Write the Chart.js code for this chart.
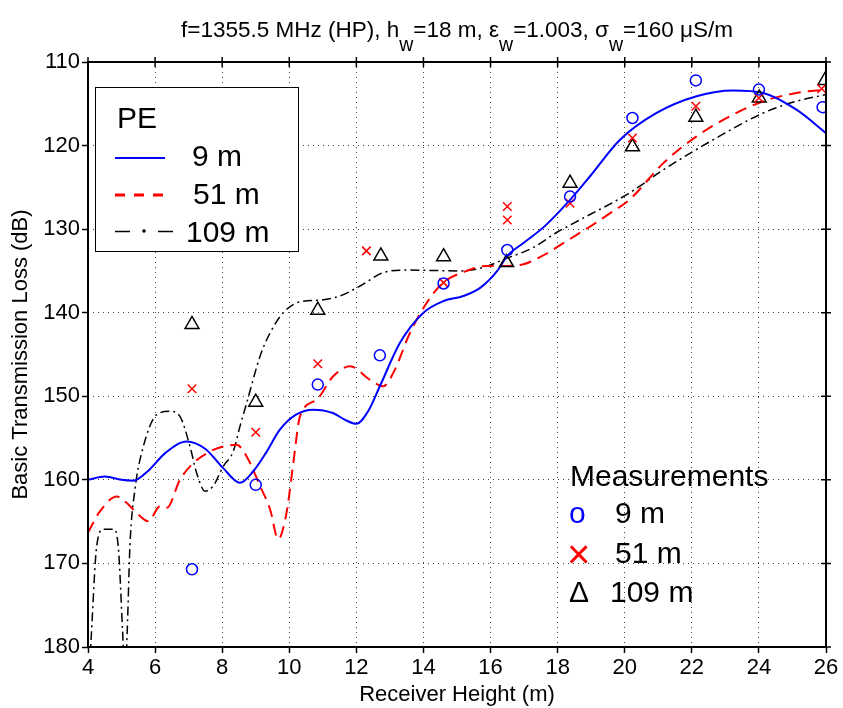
<!DOCTYPE html>
<html>
<head>
<meta charset="utf-8">
<script src="https://cdn.jsdelivr.net/npm/chart.js@4.4.1/dist/chart.umd.min.js"></script>
<style>
  body { margin: 0; background: #fff; }
  #wrap { width: 843px; height: 708px; }
</style>
</head>
<body>
<div id="wrap"><canvas id="lossChart"></canvas></div>
<script>
// PE model curves (receiver height in m, basic transmission loss in dB)
const pe9X = [4.0, 4.5, 5.0, 5.35, 5.8, 6.3, 6.94, 7.5, 8.03, 8.53, 8.92, 9.3, 9.72, 10.2, 10.71, 11.3, 11.7, 12.0, 12.35, 12.7, 13.3, 14.0, 14.6, 15.19, 15.7, 16.2, 16.5, 17.0, 17.6, 18.37, 18.96, 19.86, 20.95, 22.14, 23.23, 24.13, 25.12, 26.0];
const pe9Y = [160.0, 159.6, 160.0, 160.1, 158.9, 156.8, 155.4, 156.3, 158.6, 160.35, 159.0, 156.8, 154.0, 152.2, 151.6, 152.0, 152.9, 153.3, 151.8, 148.8, 143.6, 140.0, 138.6, 138.0, 137.0, 135.0, 133.2, 131.6, 129.7, 126.5, 123.7, 119.3, 116.1, 114.1, 113.4, 113.7, 115.7, 118.5];

const pe51X = [4.0, 4.36, 4.86, 5.15, 5.4, 5.8, 6.15, 6.35, 6.74, 7.14, 7.64, 8.03, 8.43, 8.73, 9.13, 9.43, 9.67, 9.92, 10.12, 10.32, 10.82, 11.31, 11.81, 12.4, 12.8, 13.1, 13.6, 14.1, 14.59, 15.29, 15.88, 16.48, 16.98, 17.5, 18.2, 19.0, 19.6, 20.15, 21.15, 22.14, 23.13, 24.13, 25.12, 26.0];
const pe51Y = [166.3, 163.75, 162.0, 162.75, 163.75, 164.95, 163.15, 163.35, 160.0, 158.0, 156.6, 156.0, 155.8, 157.2, 160.75, 163.55, 167.1, 163.9, 158.0, 152.4, 150.4, 147.6, 146.4, 148.0, 148.8, 147.2, 142.4, 138.8, 136.4, 135.0, 134.4, 134.4, 134.2, 133.3, 131.6, 129.6, 128.0, 126.45, 122.1, 118.9, 116.5, 114.7, 113.7, 113.3];

const pe109X = [4.0, 4.1, 4.26, 4.46, 4.76, 4.9, 5.03, 5.1, 5.17, 5.25, 5.4, 5.65, 6.05, 6.44, 6.74, 7.04, 7.24, 7.49, 7.73, 8.03, 8.33, 8.53, 8.73, 9.13, 9.43, 9.82, 10.32, 10.91, 11.51, 12.11, 12.8, 13.5, 14.29, 15.09, 15.68, 16.48, 17.27, 17.97, 18.66, 20.15, 21.15, 22.64, 24.13, 25.12, 26.0];
const pe109Y = [186.0, 178.5, 167.9, 165.9, 165.9, 167.9, 178.0, 184.0, 178.0, 167.9, 161.15, 156.0, 152.2, 151.8, 152.4, 156.0, 159.2, 161.35, 160.75, 158.4, 156.6, 153.6, 150.8, 145.2, 142.4, 140.0, 138.7, 138.5, 138.0, 136.8, 135.2, 134.9, 134.95, 135.0, 134.7, 133.5, 132.2, 130.4, 128.9, 125.65, 122.9, 119.3, 116.1, 114.7, 113.9];

// measurements
const meas9X = [7.1, 9.0, 10.85, 12.7, 14.6, 16.5, 18.37, 20.23, 22.12, 24.0, 25.9];
const meas9Y = [170.7, 160.6, 148.6, 145.1, 136.5, 132.5, 126.1, 116.7, 112.2, 113.3, 115.4];

const meas51X = [7.1, 9.0, 10.85, 12.3, 14.6, 16.5, 16.5, 18.37, 20.23, 22.12, 24.0, 25.87];
const meas51Y = [149.1, 154.3, 146.1, 132.6, 136.4, 127.3, 128.9, 126.9, 119.1, 115.3, 114.3, 113.2];

const meas109X = [7.1, 9.0, 10.85, 12.73, 14.6, 16.48, 18.37, 20.23, 22.12, 24.01, 25.97];
const meas109Y = [141.4, 150.7, 139.7, 133.2, 133.3, 134.0, 124.5, 120.15, 116.6, 114.3, 112.2];

const xTicks = [4, 6, 8, 10, 12, 14, 16, 18, 20, 22, 24, 26];
const yTicks = [110, 120, 130, 140, 150, 160, 170, 180];

const FONT = "'Liberation Sans', Arial, Helvetica, sans-serif";

const toPoints = (xs, ys) => xs.map((x, i) => ({ x: x, y: ys[i] }));

const decor = {
  id: 'decor',
  afterDraw(chart) {
    const ctx = chart.ctx;
    const a = chart.chartArea;
    const xs = chart.scales.x;
    const ys = chart.scales.y;
    ctx.save();

    // frame
    ctx.strokeStyle = '#000';
    ctx.lineWidth = 2;
    ctx.strokeRect(a.left, a.top, a.right - a.left, a.bottom - a.top);

    // small ticks on top and right
    ctx.lineWidth = 1.5;
    ctx.beginPath();
    xTicks.forEach(v => {
      const px = xs.getPixelForValue(v);
      ctx.moveTo(px, a.top - 5);
      ctx.lineTo(px, a.top + 5);
    });
    yTicks.forEach(v => {
      const py = ys.getPixelForValue(v);
      ctx.moveTo(a.right - 5, py);
      ctx.lineTo(a.right + 5, py);
    });
    ctx.stroke();

    // title with subscripts
    const parts = [
      ['f=1355.5 MHz (HP), h', 0], ['w', 1], ['=18 m, \u03b5', 0], ['w', 1],
      ['=1.003, \u03c3', 0], ['w', 1], ['=160 \u03bcS/m', 0]
    ];
    const mainFont = '22.5px ' + FONT;
    const subFont = '19.5px ' + FONT;
    let total = 0;
    parts.forEach(p => {
      ctx.font = p[1] ? subFont : mainFont;
      total += ctx.measureText(p[0]).width;
    });
    let tx = (a.left + a.right) / 2 - total / 2;
    ctx.fillStyle = '#000';
    ctx.textBaseline = 'alphabetic';
    ctx.textAlign = 'left';
    parts.forEach(p => {
      ctx.font = p[1] ? subFont : mainFont;
      ctx.fillText(p[0], tx, p[1] ? 51 : 37);
      tx += ctx.measureText(p[0]).width;
    });

    // PE legend box
    ctx.fillStyle = '#fff';
    ctx.fillRect(95, 87, 203, 164);
    ctx.strokeStyle = '#000';
    ctx.lineWidth = 1;
    ctx.strokeRect(95.5, 87.5, 203, 164);

    ctx.fillStyle = '#000';
    ctx.font = '30px ' + FONT;
    ctx.fillText('PE', 117, 128);
    ctx.fillText('9 m', 192, 166);
    ctx.fillText('51 m', 193, 204);
    ctx.fillText('109 m', 186, 242);

    ctx.lineWidth = 2;
    ctx.strokeStyle = '#0000ff';
    ctx.beginPath();
    ctx.moveTo(115, 158); ctx.lineTo(165, 158);
    ctx.stroke();

    ctx.lineWidth = 3;
    ctx.strokeStyle = '#ff0000';
    ctx.setLineDash([10, 9]);
    ctx.beginPath();
    ctx.moveTo(115, 195); ctx.lineTo(166, 195);
    ctx.stroke();
    ctx.setLineDash([]);

    ctx.lineWidth = 1.5;
    ctx.strokeStyle = '#000';
    ctx.beginPath();
    ctx.moveTo(115, 231.5); ctx.lineTo(130, 231.5);
    ctx.moveTo(158, 231.5); ctx.lineTo(173, 231.5);
    ctx.stroke();
    ctx.beginPath();
    ctx.arc(144, 231, 1.8, 0, Math.PI * 2);
    ctx.fillStyle = '#000';
    ctx.fill();

    // measurements legend (no box)
    ctx.font = '30px ' + FONT;
    ctx.fillStyle = '#000';
    ctx.fillText('Measurements', 570, 486);
    ctx.fillStyle = '#0000ff';
    ctx.fillText('o', 569, 523);
    ctx.fillStyle = '#000';
    ctx.fillText('\u0394', 569, 602);
    ctx.fillText('9 m', 615, 523);
    ctx.fillText('51 m', 615, 563);
    ctx.fillText('109 m', 610, 602);
    ctx.font = '40px ' + FONT;
    ctx.fillStyle = '#ff0000';
    ctx.fillText('\u00d7', 567, 568);

    ctx.restore();
  }
};

new Chart(document.getElementById('lossChart'), {
  type: 'scatter',
  data: {
    datasets: [
      {
        label: 'Meas 9 m',
        data: toPoints(meas9X, meas9Y),
        pointStyle: 'circle',
        pointRadius: 5.5,
        borderColor: '#0000ff',
        backgroundColor: 'rgba(0,0,0,0)',
        borderWidth: 1.5,
        order: 0
      },
      {
        label: 'Meas 51 m',
        data: toPoints(meas51X, meas51Y),
        pointStyle: 'crossRot',
        pointRadius: 6,
        borderColor: '#ff0000',
        backgroundColor: '#ff0000',
        borderWidth: 1.5,
        order: 0
      },
      {
        label: 'Meas 109 m',
        data: toPoints(meas109X, meas109Y),
        pointStyle: 'triangle',
        pointRadius: 8,
        borderColor: '#000',
        backgroundColor: 'rgba(0,0,0,0)',
        borderWidth: 1.5,
        order: 0
      },
      {
        label: 'PE 9 m',
        data: toPoints(pe9X, pe9Y),
        showLine: true,
        pointRadius: 0,
        borderColor: '#0000ff',
        borderWidth: 2,
        cubicInterpolationMode: 'monotone',
        order: 1
      },
      {
        label: 'PE 51 m',
        data: toPoints(pe51X, pe51Y),
        showLine: true,
        pointRadius: 0,
        borderColor: '#ff0000',
        borderWidth: 2,
        borderDash: [12, 7],
        cubicInterpolationMode: 'monotone',
        order: 1
      },
      {
        label: 'PE 109 m',
        data: toPoints(pe109X, pe109Y),
        showLine: true,
        pointRadius: 0,
        borderColor: '#000',
        borderWidth: 1.5,
        borderDash: [9, 4, 2, 4],
        cubicInterpolationMode: 'monotone',
        order: 1
      }
    ]
  },
  options: {
    responsive: true,
    maintainAspectRatio: false,
    animation: false,
    layout: { padding: { top: 62, right: 17, left: 0, bottom: 0 } },
    plugins: {
      legend: { display: false },
      title: { display: false },
      tooltip: { enabled: false }
    },
    scales: {
      x: {
        type: 'linear',
        min: 4,
        max: 26,
        afterFit: (s) => { s.height = 61; },
        afterBuildTicks: (s) => { s.ticks = xTicks.map(v => ({ value: v })); },
        ticks: { font: { family: FONT, size: 22 }, color: '#000', padding: 2, maxRotation: 0 },
        grid: { color: 'rgba(0,0,0,0.75)', lineWidth: 1, tickColor: '#000', tickLength: 6, tickWidth: 1.5 },
        border: { display: false, dash: [1, 4] },
        title: {
          display: true,
          text: 'Receiver Height (m)',
          font: { family: FONT, size: 22 },
          color: '#000',
          padding: { top: 0, bottom: 0 }
        }
      },
      y: {
        type: 'linear',
        reverse: true,
        min: 110,
        max: 180,
        afterFit: (s) => { s.width = 88; },
        afterBuildTicks: (s) => { s.ticks = yTicks.map(v => ({ value: v })); },
        ticks: { font: { family: FONT, size: 22 }, color: '#000', padding: 2 },
        grid: { color: 'rgba(0,0,0,0.75)', lineWidth: 1, tickColor: '#000', tickLength: 6, tickWidth: 1.5 },
        border: { display: false, dash: [1, 4] },
        title: {
          display: true,
          text: 'Basic Transmission Loss (dB)',
          font: { family: FONT, size: 22 },
          color: '#000',
          padding: { top: 8, bottom: 0 }
        }
      }
    }
  },
  plugins: [decor]
});
</script>
</body>
</html>
